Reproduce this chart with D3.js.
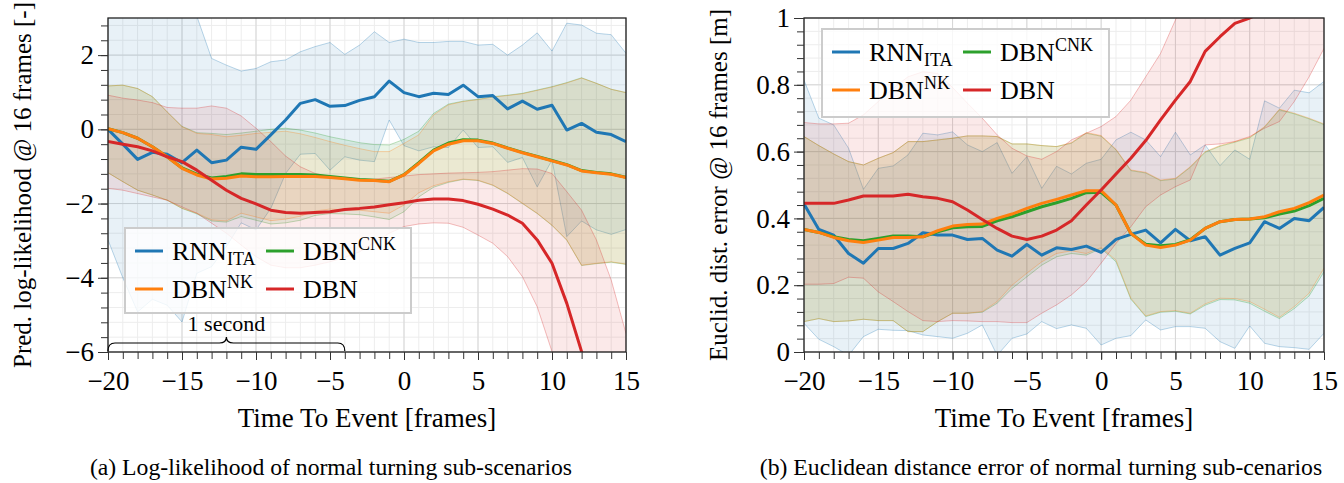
<!DOCTYPE html>
<html>
<head>
<meta charset="utf-8">
<script src="https://cdn.jsdelivr.net/npm/d3@7"></script>
<style>
  body { margin: 0; background: #fff; }
  svg, svg text { font-family: "Liberation Serif", "Times New Roman", serif; }
</style>
</head>
<body>
<div id="vis"></div>
<script>

// time to event, one value per frame
const frames = [-20,-19,-18,-17,-16,-15,-14,-13,-12,-11,-10,-9,-8,-7,-6,-5,-4,-3,-2,-1,
                0,1,2,3,4,5,6,7,8,9,10,11,12,13,14,15];
const xTicks = [-20,-15,-10,-5,0,5,10,15];

const seriesLabels = [
  {base: "RNN", sub: "ITA"},
  {base: "DBN", sup: "CNK"},
  {base: "DBN", sup: "NK"},
  {base: "DBN"}
];
const seriesColors = ["#1f77b4", "#2ca02c", "#ff7f0e", "#d62728"];

// (a) predicted log-likelihood
const llTicks = [-6,-4,-2,0,2];
const llRnnMean = [0.0,-0.40,-0.81,-0.62,-0.67,-0.90,-0.56,-0.90,-0.83,-0.48,
  -0.54,-0.15,0.25,0.70,0.80,0.62,0.64,0.78,0.88,1.30,
  0.99,0.88,0.97,0.94,1.19,0.88,0.91,0.55,0.76,0.54,
  0.65,-0.02,0.16,-0.08,-0.14,-0.33];
const llRnnUp = [3.8,3.8,3.7,3.7,3.6,3.4,3.05,1.91,1.73,1.57,
  1.64,1.82,1.87,2.09,2.23,2.34,2.02,2.27,2.63,2.34,
  2.43,2.34,2.34,2.37,2.37,2.27,2.29,2.0,2.27,2.60,
  2.11,2.86,2.81,2.59,2.55,2.05];
const llRnnLo = [-2.98,-4.0,-4.92,-4.58,-4.74,-5.19,-3.88,-3.70,-3.16,-2.52,
  -2.71,-2.13,-1.19,-0.67,-0.65,-1.10,-0.74,-0.83,-0.87,0.25,
  -0.44,-0.58,-0.47,-0.49,-0.02,-0.49,-0.47,-0.89,-0.76,-1.55,
  -0.83,-2.89,-2.47,-2.71,-2.83,-2.70];
const llCnkMean = [0.02,-0.09,-0.24,-0.47,-0.74,-1.04,-1.21,-1.31,-1.27,-1.20,
  -1.22,-1.22,-1.22,-1.22,-1.23,-1.27,-1.31,-1.35,-1.37,-1.40,
  -1.22,-0.90,-0.56,-0.37,-0.28,-0.29,-0.37,-0.50,-0.62,-0.73,
  -0.84,-0.95,-1.11,-1.16,-1.20,-1.29];
const llCnkUp = [1.17,1.19,1.10,0.88,0.47,0.08,-0.09,-0.11,-0.14,-0.10,
  -0.05,0.0,0.03,-0.02,-0.10,-0.20,-0.28,-0.36,-0.41,-0.42,
  -0.27,-0.05,0.43,0.68,0.76,0.81,0.88,0.92,0.97,1.06,
  1.15,1.26,1.39,1.24,1.08,0.99];
const llCnkLo = [-1.17,-1.41,-1.64,-1.77,-1.91,-2.13,-2.28,-2.47,-2.50,-2.35,
  -2.45,-2.55,-2.52,-2.45,-2.32,-2.27,-2.28,-2.30,-2.36,-2.43,
  -2.22,-1.82,-1.56,-1.43,-1.35,-1.38,-1.51,-1.73,-2.00,-2.27,
  -2.59,-2.99,-3.67,-3.62,-3.58,-3.64];
const llNkMean = [0.02,-0.09,-0.24,-0.47,-0.74,-1.05,-1.23,-1.34,-1.32,-1.26,
  -1.28,-1.28,-1.27,-1.27,-1.27,-1.30,-1.33,-1.37,-1.38,-1.41,
  -1.23,-0.92,-0.58,-0.40,-0.31,-0.31,-0.38,-0.51,-0.63,-0.74,
  -0.85,-0.96,-1.12,-1.17,-1.21,-1.30];
const llNkUp = [1.17,1.19,1.10,0.88,0.47,0.07,-0.11,-0.14,-0.20,-0.16,
  -0.11,-0.08,-0.05,-0.12,-0.22,-0.33,-0.43,-0.52,-0.60,-0.60,
  -0.38,-0.15,0.39,0.66,0.75,0.80,0.87,0.91,0.96,1.05,
  1.14,1.25,1.38,1.24,1.08,0.99];
const llNkLo = [-1.17,-1.41,-1.64,-1.77,-1.91,-2.13,-2.26,-2.44,-2.47,-2.26,
  -2.36,-2.46,-2.42,-2.34,-2.20,-2.15,-2.17,-2.18,-2.22,-2.26,
  -2.04,-1.71,-1.52,-1.41,-1.34,-1.37,-1.50,-1.72,-1.99,-2.26,
  -2.58,-2.98,-3.66,-3.61,-3.57,-3.63];
const llDbnMean = [-0.33,-0.40,-0.47,-0.58,-0.74,-0.87,-1.10,-1.37,-1.64,-1.86,
  -2.01,-2.18,-2.24,-2.26,-2.24,-2.22,-2.16,-2.13,-2.09,-2.03,
  -1.98,-1.91,-1.88,-1.88,-1.92,-2.02,-2.15,-2.31,-2.53,-2.98,
  -3.61,-4.69,-5.99,-7.4,-8.9,-10.5];
const llDbnUp = [0.92,0.84,0.79,0.72,0.59,0.57,0.57,0.63,0.57,0.36,
  0.03,-0.33,-0.72,-1.01,-1.19,-1.28,-1.32,-1.34,-1.34,-1.30,
  -1.26,-1.22,-1.20,-1.18,-1.17,-1.16,-1.14,-1.10,-1.06,-1.07,
  -1.19,-1.68,-2.18,-2.98,-4.06,-5.50];
const llDbnLo = [-1.59,-1.64,-1.73,-1.82,-1.91,-2.09,-2.26,-2.53,-2.80,-3.12,
  -3.43,-3.66,-3.73,-3.73,-3.66,-3.57,-3.45,-3.30,-3.05,-2.80,
  -2.62,-2.55,-2.52,-2.53,-2.64,-2.85,-3.07,-3.43,-3.97,-4.78,
  -5.99,-7.2,-8.5,-10.0,-11.5,-13.0];

// (b) euclidean distance error
const errTicks = [0,0.2,0.4,0.6,0.8,1];
const errRnnMean = [0.443,0.367,0.350,0.295,0.266,0.310,0.310,0.325,0.357,0.350,
  0.350,0.337,0.340,0.305,0.287,0.322,0.290,0.312,0.307,0.317,
  0.298,0.337,0.352,0.365,0.327,0.367,0.333,0.345,0.290,0.310,
  0.327,0.390,0.370,0.400,0.393,0.433];
const errRnnUp = [0.814,0.70,0.68,0.61,0.487,0.55,0.557,0.59,0.655,0.65,
  0.659,0.62,0.60,0.627,0.535,0.585,0.49,0.556,0.533,0.565,
  0.577,0.635,0.658,0.635,0.585,0.658,0.59,0.62,0.558,0.605,
  0.577,0.752,0.73,0.784,0.776,0.81];
const errRnnLo = [0.086,0.038,0.016,-0.01,0.046,0.068,0.065,0.064,0.051,0.046,
  0.041,0.056,0.081,-0.01,0.041,0.054,0.091,0.07,0.081,0.071,
  0.021,0.041,0.049,0.096,0.066,0.076,0.076,0.071,0.031,0.011,
  0.078,0.026,0.016,0.013,0.008,0.056];
const errCnkMean = [0.367,0.358,0.345,0.337,0.333,0.34,0.347,0.347,0.345,0.36,
  0.372,0.375,0.376,0.393,0.405,0.42,0.435,0.447,0.46,0.477,
  0.478,0.44,0.355,0.323,0.318,0.322,0.336,0.37,0.39,0.397,
  0.398,0.402,0.413,0.422,0.438,0.46];
const errCnkUp = [0.645,0.618,0.593,0.57,0.56,0.58,0.597,0.63,0.63,0.635,
  0.64,0.647,0.647,0.645,0.623,0.623,0.618,0.615,0.625,0.655,
  0.646,0.605,0.543,0.536,0.513,0.518,0.553,0.598,0.616,0.628,
  0.641,0.673,0.725,0.713,0.698,0.681];
const errCnkLo = [0.091,0.10,0.091,0.093,0.098,0.094,0.094,0.061,0.061,0.091,
  0.116,0.116,0.119,0.146,0.19,0.225,0.26,0.285,0.295,0.29,
  0.31,0.27,0.158,0.106,0.119,0.122,0.114,0.14,0.157,0.156,
  0.146,0.122,0.1,0.13,0.168,0.24];
const errNkMean = [0.367,0.358,0.343,0.333,0.328,0.335,0.343,0.343,0.345,0.363,
  0.377,0.382,0.383,0.40,0.413,0.43,0.445,0.457,0.47,0.483,
  0.483,0.44,0.355,0.32,0.313,0.32,0.335,0.37,0.39,0.397,
  0.398,0.405,0.42,0.43,0.447,0.47];
const errNkUp = [0.645,0.618,0.593,0.57,0.56,0.58,0.597,0.63,0.63,0.635,
  0.64,0.647,0.647,0.645,0.623,0.623,0.618,0.615,0.627,0.657,
  0.648,0.607,0.545,0.538,0.515,0.52,0.555,0.60,0.618,0.63,
  0.643,0.675,0.727,0.715,0.70,0.683];
const errNkLo = [0.091,0.10,0.091,0.093,0.098,0.094,0.094,0.061,0.061,0.091,
  0.116,0.116,0.121,0.151,0.20,0.236,0.27,0.295,0.303,0.295,
  0.313,0.275,0.161,0.108,0.121,0.124,0.116,0.144,0.161,0.16,
  0.151,0.128,0.104,0.136,0.176,0.251];
const errDbnMean = [0.445,0.445,0.445,0.455,0.467,0.467,0.467,0.472,0.465,0.46,
  0.45,0.425,0.397,0.37,0.347,0.337,0.347,0.365,0.393,0.44,
  0.485,0.533,0.58,0.633,0.695,0.754,0.81,0.90,0.944,0.984,
  1.0,1.02,1.04,1.06,1.08,1.1];
const errDbnUp = [0.687,0.683,0.683,0.685,0.71,0.75,0.79,0.824,0.839,0.834,
  0.792,0.745,0.70,0.65,0.61,0.587,0.577,0.60,0.635,0.655,
  0.675,0.705,0.754,0.824,0.894,0.994,1.1,1.2,1.3,1.4,
  1.5,1.6,1.7,1.8,1.9,2.0];
const errDbnLo = [0.203,0.203,0.205,0.224,0.221,0.18,0.151,0.121,0.094,0.091,
  0.094,0.093,0.091,0.091,0.088,0.088,0.116,0.141,0.171,0.21,
  0.266,0.325,0.375,0.435,0.47,0.495,0.515,0.62,0.623,0.63,
  0.645,0.67,0.69,0.75,0.824,0.909];

const fmt = d3.format("~g");
const serif = "'Liberation Serif', 'Times New Roman', serif";

function drawPanel(svg, p){
  const x = d3.scaleLinear().domain([-20, 15]).range([p.left, p.right]);
  const y = d3.scaleLinear().domain(p.yDomain).range([p.bottom, p.top]);
  const g = svg.append("g");

  g.append("clipPath").attr("id", p.id + "-clip")
    .append("rect")
    .attr("x", p.left).attr("y", p.top)
    .attr("width", p.right - p.left).attr("height", p.bottom - p.top);

  // grid
  const grid = g.append("g");
  grid.selectAll(".vminor").data(frames).join("line")
    .attr("x1", d=>x(d)).attr("x2", d=>x(d))
    .attr("y1", p.top).attr("y2", p.bottom)
    .attr("stroke", "#ededed");
  grid.selectAll(".hminor").data(p.yMinor).join("line")
    .attr("x1", p.left).attr("x2", p.right)
    .attr("y1", d=>y(d)).attr("y2", d=>y(d))
    .attr("stroke", "#ededed");
  grid.selectAll(".vmajor").data(xTicks).join("line")
    .attr("x1", d=>x(d)).attr("x2", d=>x(d))
    .attr("y1", p.top).attr("y2", p.bottom)
    .attr("stroke", "#d6d6d6");
  grid.selectAll(".hmajor").data(p.yTicks).join("line")
    .attr("x1", p.left).attr("x2", p.right)
    .attr("y1", d=>y(d)).attr("y2", d=>y(d))
    .attr("stroke", "#d6d6d6");

  const plot = g.append("g").attr("clip-path", `url(#${p.id}-clip)`);

  // bands
  p.series.forEach((s, k)=>{
    const pts = frames.map((f, i)=>({f, lo: s.lo[i], hi: s.hi[i]}));
    plot.append("path").datum(pts)
      .attr("d", d3.area().x(d=>x(d.f)).y0(d=>y(d.lo)).y1(d=>y(d.hi)))
      .attr("fill", seriesColors[k]).attr("fill-opacity", 0.1);
    ["lo", "hi"].forEach(key=>{
      plot.append("path").datum(pts)
        .attr("d", d3.line().x(d=>x(d.f)).y(d=>y(d[key])))
        .attr("fill", "none")
        .attr("stroke", seriesColors[k]).attr("stroke-opacity", 0.3)
        .attr("stroke-width", 1);
    });
  });

  // means
  p.series.forEach((s, k)=>{
    plot.append("path").datum(s.mean)
      .attr("d", d3.line().x((d, i)=>x(frames[i])).y(d=>y(d)))
      .attr("fill", "none")
      .attr("stroke", seriesColors[k])
      .attr("stroke-width", 3)
      .attr("stroke-linejoin", "round");
  });

  // frame
  g.append("rect")
    .attr("x", p.left).attr("y", p.top)
    .attr("width", p.right - p.left).attr("height", p.bottom - p.top)
    .attr("fill", "none").attr("stroke", "#222").attr("stroke-width", 1.3);

  // axes
  const xMinor = g.append("g").attr("transform", `translate(0,${p.bottom})`)
    .call(d3.axisBottom(x).tickValues(frames).tickSize(7).tickFormat(""));
  const xAxis = g.append("g").attr("transform", `translate(0,${p.bottom})`)
    .call(d3.axisBottom(x).tickValues(xTicks).tickSize(8).tickPadding(11).tickFormat(fmt));
  const yMinor = g.append("g").attr("transform", `translate(${p.left},0)`)
    .call(d3.axisLeft(y).tickValues(p.yMinor).tickSize(7).tickFormat(""));
  const yAxis = g.append("g").attr("transform", `translate(${p.left},0)`)
    .call(d3.axisLeft(y).tickValues(p.yTicks).tickSize(10).tickPadding(4).tickFormat(fmt));
  [xMinor, xAxis, yMinor, yAxis].forEach(a=>{
    a.attr("font-family", serif).attr("font-size", 27);
    a.select(".domain").remove();
    a.selectAll(".tick line").attr("stroke", "#333");
    a.selectAll("text").attr("fill", "#000");
  });

  // axis labels
  g.append("text")
    .attr("text-anchor", "middle")
    .attr("x", (p.left + p.right)/2).attr("y", 427)
    .attr("font-family", serif).attr("font-size", 27)
    .text("Time To Event [frames]");
  g.append("text")
    .attr("text-anchor", "middle")
    .attr("transform", `translate(${p.yLabelX}, ${(p.top + p.bottom)/2}) rotate(-90)`)
    .attr("font-family", serif).attr("font-size", 25)
    .text(p.yLabel);
  g.append("text")
    .attr("text-anchor", "middle")
    .attr("x", p.captionX).attr("y", 475)
    .attr("font-family", serif).attr("font-size", 23.7)
    .text(p.caption);

  // legend
  const lg = g.append("g").attr("transform", `translate(${p.left + p.legend.dx},${p.top + p.legend.dy})`);
  lg.append("rect")
    .attr("width", p.legend.w).attr("height", p.legend.h)
    .attr("fill", "#fff").attr("fill-opacity", 0.8)
    .attr("stroke", "#cccccc").attr("stroke-width", 2);
  const cols = [10, 141];
  seriesLabels.forEach((lab, k)=>{
    const cx = cols[k % 2];
    const cy = k < 2 ? 23 : 61;
    lg.append("line")
      .attr("x1", cx).attr("x2", cx + 28)
      .attr("y1", cy).attr("y2", cy)
      .attr("stroke", seriesColors[k]).attr("stroke-width", 3);
    const t = lg.append("text")
      .attr("x", cx + 37).attr("y", cy + 9)
      .attr("font-family", serif).attr("font-size", 26);
    t.append("tspan").text(lab.base);
    if (lab.sub) t.append("tspan").attr("dy", "0.3em").attr("font-size", 18).text(lab.sub);
    if (lab.sup) t.append("tspan").attr("dy", "-0.55em").attr("font-size", 18).text(lab.sup);
  });

  // "1 second" brace
  if (p.brace){
    const x0 = x(p.brace.from), x1 = x(p.brace.to), xm = (x0 + x1)/2;
    const yb = y(p.yDomain[0]) - 1, yh = yb - 8, yt = yb - 14;
    const path = d3.path();
    path.moveTo(x0, yb);
    path.quadraticCurveTo(x0, yh, x0 + 7, yh);
    path.lineTo(xm - 7, yh);
    path.quadraticCurveTo(xm, yh, xm, yt);
    path.quadraticCurveTo(xm, yh, xm + 7, yh);
    path.lineTo(x1 - 7, yh);
    path.quadraticCurveTo(x1, yh, x1, yb);
    g.append("path").attr("d", path.toString())
      .attr("fill", "none").attr("stroke", "#000").attr("stroke-width", 1.2);
    g.append("text")
      .attr("text-anchor", "middle")
      .attr("x", xm).attr("y", yt - 6)
      .attr("font-family", serif).attr("font-size", 22)
      .text(p.brace.label);
  }
}

const svg = d3.select("#vis")
  .append("svg")
  .attr("width", 1344)
  .attr("height", 483)
  .attr("font-family", serif);

drawPanel(svg, {
  id: "ll",
  left: 108, right: 626, top: 18, bottom: 352,
  yDomain: [-6, 3],
  yTicks: llTicks,
  yMinor: d3.range(-6, 3.001, 0.4),
  yLabel: "Pred. log-likelihood @ 16 frames [-]",
  yLabelX: 31,
  caption: "(a) Log-likelihood of normal turning sub-scenarios",
  captionX: 331,
  legend: {dx: 17, dy: 210, w: 286, h: 85},
  brace: {from: -20, to: -4, label: "1 second"},
  series: [
    {mean: llRnnMean, hi: llRnnUp, lo: llRnnLo},
    {mean: llCnkMean, hi: llCnkUp, lo: llCnkLo},
    {mean: llNkMean, hi: llNkUp, lo: llNkLo},
    {mean: llDbnMean, hi: llDbnUp, lo: llDbnLo}
  ]
});

drawPanel(svg, {
  id: "err",
  left: 804, right: 1324, top: 18, bottom: 352,
  yDomain: [0, 1],
  yTicks: errTicks,
  yMinor: d3.range(0, 1.001, 0.04),
  yLabel: "Euclid. dist. error @ 16 frames [m]",
  yLabelX: 727,
  caption: "(b) Euclidean distance error of normal turning sub-cenarios",
  captionX: 1041,
  legend: {dx: 18, dy: 11, w: 287, h: 88},
  series: [
    {mean: errRnnMean, hi: errRnnUp, lo: errRnnLo},
    {mean: errCnkMean, hi: errCnkUp, lo: errCnkLo},
    {mean: errNkMean, hi: errNkUp, lo: errNkLo},
    {mean: errDbnMean, hi: errDbnUp, lo: errDbnLo}
  ]
});

</script>
</body>
</html>
